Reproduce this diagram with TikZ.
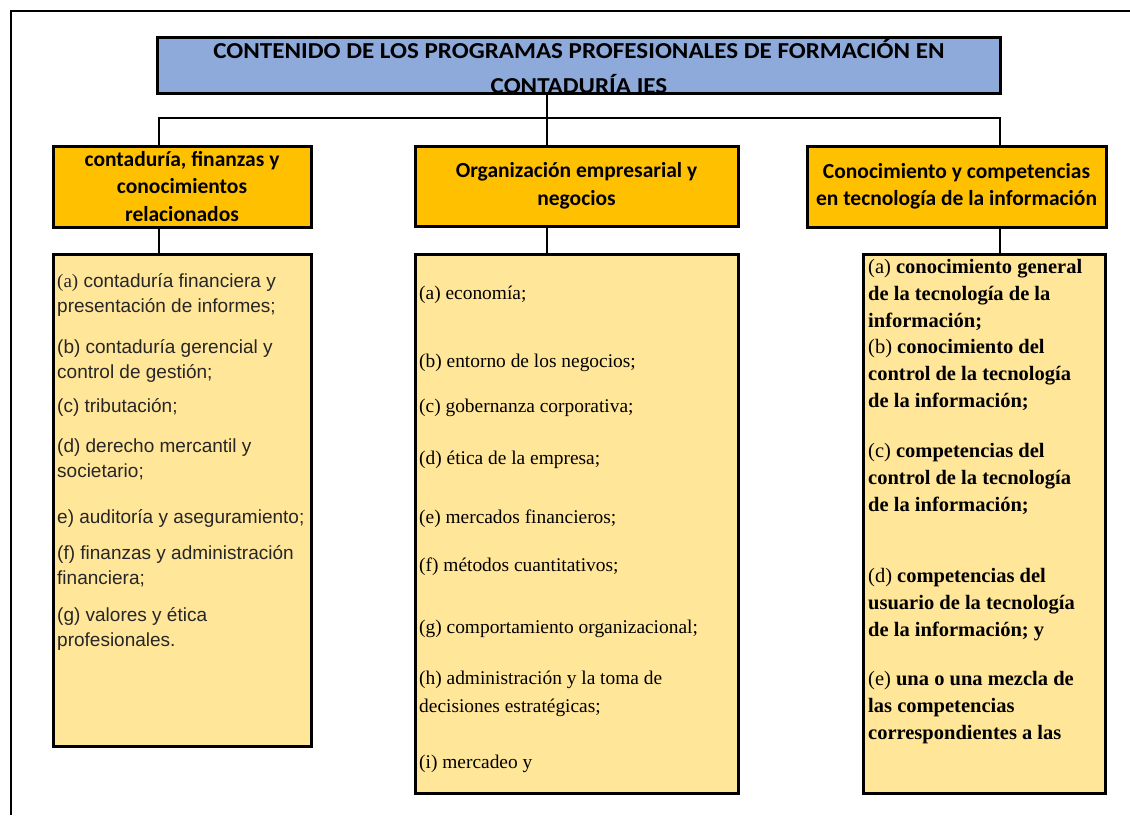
\documentclass[tikz,border=0pt]{standalone}
\usepackage{fontspec}
\setmainfont{Liberation Serif}
\newfontfamily\hdfont{Carlito}
\newfontfamily\titlefont[FakeStretch=1.1]{Carlito}
\newfontfamily\arialf{Liberation Sans}
\newfontfamily\timesf{Liberation Serif}
\definecolor{titleblue}{HTML}{8EAADB}
\definecolor{hdorange}{HTML}{FFC000}
\definecolor{listyellow}{HTML}{FFE699}
\newcommand\linesL[1]{\vtop{\halign{##\hfil\cr#1\crcr}}}
\newcommand\linesC[1]{\vtop{\halign{\hfil##\hfil\cr#1\crcr}}}
\begin{document}
\begin{tikzpicture}[x=1pt,y=-1pt,
  boxline/.style={draw=black, line width=3pt},
  titlebox/.style={fill=titleblue, minimum width=842pt, minimum height=55pt, inner sep=0pt},
  hdbox/.style={boxline, fill=hdorange, inner sep=0pt, align=center,
    font=\hdfont\bfseries\fontsize{21.5}{27.5}\selectfont},
  listbox/.style={boxline, fill=listyellow, inner sep=0pt},
  conn/.style={line width=1.6pt},
  itemA/.style={anchor=base west, inner sep=0pt, text=black!85,
    font=\arialf\fontsize{19}{25.5}\selectfont},
  itemB/.style={anchor=base west, inner sep=0pt, text=black,
    font=\timesf\fontsize{19.4}{28}\selectfont},
  itemC/.style={anchor=base west, inner sep=0pt, text=black,
    font=\timesf\fontsize{20.5}{27}\selectfont}
]
\useasboundingbox (0,0) rectangle (1130,815);
% outer frame
\draw[line width=2pt] (1130,11) -- (11,11) -- (11,815);

% title
\node[titlebox] (title) at (579,65.5) {};
\node[anchor=base, inner sep=0pt,
  font=\titlefont\bfseries\fontsize{22.8}{35}\selectfont] (titletext) at (579,58)
  {\linesC{CONTENIDO DE LOS PROGRAMAS PROFESIONALES DE FORMACIÓN EN\cr CONTADURÍA IES}};
\draw[boxline] (title.north west) rectangle (title.south east);

% headers
\node[hdbox, minimum width=258pt, minimum height=81pt] (h1) at (182,186.5)
  {contaduría, finanzas y\\conocimientos\\relacionados};
\node[hdbox, minimum width=323pt, minimum height=80pt] (h2) at (576.5,186)
  {Organización empresarial y\\negocios};
\node[hdbox, minimum width=299pt, minimum height=81pt] (h3) at (956.5,186.5)
  {Conocimiento y competencias\\en tecnología de la información};

% list boxes
\node[listbox, minimum width=258pt, minimum height=492pt] (l1) at (182,500) {};
\node[listbox, minimum width=323pt, minimum height=539pt] (l2) at (576.5,523.5) {};
\node[listbox, minimum width=242pt, minimum height=539pt] (l3) at (984,523.5) {};

% connectors
\coordinate (jL) at (159,118);
\coordinate (jM) at (547,118);
\coordinate (jR) at (1000,118);
\draw[conn] (jM |- title.south) -- (jM |- h2.north);
\draw[conn] (jL |- h1.north) -- (jL) -- (jR) -- (jR |- h3.north);
\draw[conn] (jL |- h1.south) -- (jL |- l1.north);
\draw[conn] (jM |- h2.south) -- (jM |- l2.north);
\draw[conn] (jR |- h3.south) -- (jR |- l3.north);

% list 1
\node[itemA] (a1) at (57,287) {\linesL{{\timesf (a)} contaduría financiera y\cr presentación de informes;}};
\node[itemA] (b1) at (57,353) {\linesL{(b) contaduría gerencial y\cr control de gestión;}};
\node[itemA] (c1) at (57,412) {(c) tributación;};
\node[itemA] (d1) at (57,452) {\linesL{(d) derecho mercantil y\cr societario;}};
\node[itemA] (e1) at (57,523) {e) auditoría y aseguramiento;};
\node[itemA] (f1) at (57,559) {\linesL{(f) finanzas y administración\cr financiera;}};
\node[itemA] (g1) at (57,621) {\linesL{(g) valores y ética\cr profesionales.}};

% list 2
\node[itemB] (a2) at (419,299) {(a) economía;};
\node[itemB] (b2) at (419,367) {(b) entorno de los negocios;};
\node[itemB] (c2) at (419,412) {(c) gobernanza corporativa;};
\node[itemB] (d2) at (419,464) {(d) ética de la empresa;};
\node[itemB] (e2) at (419,523) {(e) mercados financieros;};
\node[itemB] (f2) at (419,571) {(f) métodos cuantitativos;};
\node[itemB] (g2) at (419,633) {(g) comportamiento organizacional;};
\node[itemB] (h2t) at (419,684) {\linesL{(h) administración y la toma de\cr decisiones estratégicas;}};
\node[itemB] (i2) at (419,768) {(i) mercadeo y};

% list 3
\node[itemC] (a3) at (868,273) {\linesL{(a) \textbf{conocimiento general}\cr\textbf{de la tecnología de la}\cr\textbf{información;}}};
\node[itemC] (b3) at (868,353) {\linesL{(b) \textbf{conocimiento del}\cr\textbf{control de la tecnología}\cr\textbf{de la información;}}};
\node[itemC] (c3) at (868,457) {\linesL{(c) \textbf{competencias del}\cr\textbf{control de la tecnología}\cr\textbf{de la información;}}};
\node[itemC] (d3) at (868,582) {\linesL{(d) \textbf{competencias del}\cr\textbf{usuario de la tecnología}\cr\textbf{de la información; y}}};
\node[itemC] (e3) at (868,685) {\linesL{(e) \textbf{una o una mezcla de}\cr\textbf{las competencias}\cr\textbf{correspondientes a las}}};
\end{tikzpicture}
\end{document}
